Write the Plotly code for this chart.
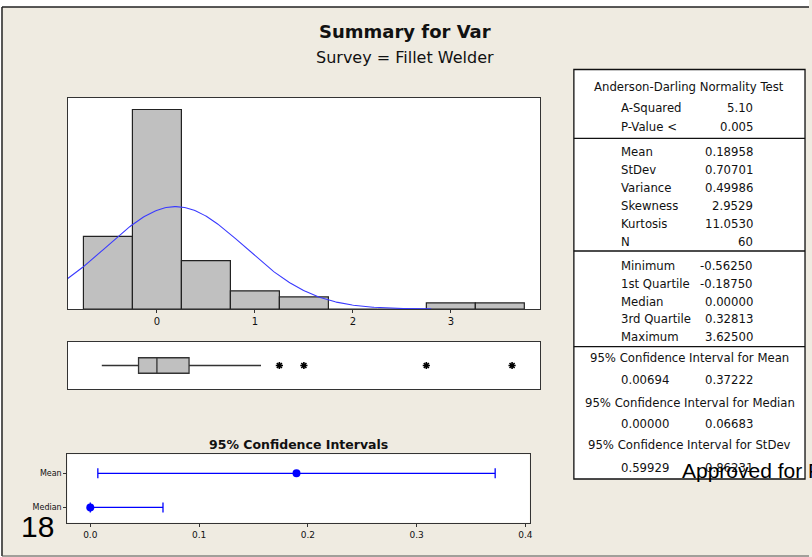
import numpy as np
import plotly.graph_objects as go

# ---------------- data ----------------
bin_centers = [-0.5, 0.0, 0.5, 1.0, 1.5, 2.0, 2.5, 3.0, 3.5]
bin_counts = [12, 33, 8, 3, 2, 0, 0, 1, 1]
bin_width = 0.5

stat_mean = 0.18958
stat_stdev = 0.70701
stat_n = 60

box_min = -0.5625
box_q1 = -0.1875
box_median = 0.0
box_q3 = 0.32813
box_upper_whisker = 1.0625
box_outliers = [1.25, 1.5, 2.75, 3.625]

ci_labels = ["Mean", "Median"]
ci_centers = [0.18958, 0.0]
ci_low = [0.00694, 0.0]
ci_high = [0.37222, 0.06683]

ad_labels = ["A-Squared", "P-Value <"]
ad_values = ["5.10", "0.005"]
desc_labels = ["Mean", "StDev", "Variance", "Skewness", "Kurtosis", "N"]
desc_values = ["0.18958", "0.70701", "0.49986", "2.9529", "11.0530", "60"]
quart_labels = ["Minimum", "1st Quartile", "Median", "3rd Quartile", "Maximum"]
quart_values = ["-0.56250", "-0.18750", "0.00000", "0.32813", "3.62500"]
ci_table = [
    ("95% Confidence Interval for Mean", "0.00694", "0.37222"),
    ("95% Confidence Interval for Median", "0.00000", "0.06683"),
    ("95% Confidence Interval for StDev", "0.59929", "0.86231"),
]

# ---------------- helpers ----------------
W, H = 812, 557
def PX(x):
    return x / W
def PY(y):
    return 1 - y / H

FONT = "DejaVu Sans"
BEIGE = "#EFEBE1"
EDGE = "#333333"

fig = go.Figure()

# histogram
fig.add_trace(go.Bar(
    x=bin_centers, y=bin_counts, width=bin_width,
    marker=dict(color="#C0C0C0", line=dict(color="#222222", width=1.2)),
    xaxis="x", yaxis="y", showlegend=False, hoverinfo="skip"))

# fitted normal curve (from Mean / StDev)
xc = np.linspace(-0.91, 2.8, 300)
yc = stat_n * bin_width / (stat_stdev * np.sqrt(2 * np.pi)) * np.exp(-0.5 * ((xc - stat_mean) / stat_stdev) ** 2)
fig.add_trace(go.Scatter(x=xc, y=yc, mode="lines", line=dict(color="#3a3aff", width=1.1),
                         xaxis="x", yaxis="y", showlegend=False, hoverinfo="skip"))

# boxplot
fig.add_trace(go.Box(
    q1=[box_q1], median=[box_median], q3=[box_q3],
    lowerfence=[box_min], upperfence=[box_upper_whisker],
    y=[0], orientation="h", width=0.66, whiskerwidth=0, boxpoints=False,
    fillcolor="#C0C0C0", line=dict(color="#333333", width=1.3),
    xaxis="x2", yaxis="y2", showlegend=False, hoverinfo="skip"))
fig.add_trace(go.Scatter(
    x=box_outliers, y=[0] * len(box_outliers), mode="markers",
    marker=dict(symbol="asterisk-open", size=6, color="black", line=dict(color="black", width=1.6)),
    xaxis="x2", yaxis="y2", showlegend=False, hoverinfo="skip"))

# confidence intervals
ci_y = [1, 0]
fig.add_trace(go.Scatter(
    x=ci_centers, y=ci_y, mode="markers",
    marker=dict(color="#0000FF", size=8),
    error_x=dict(type="data", symmetric=False,
                 array=[h - c for h, c in zip(ci_high, ci_centers)],
                 arrayminus=[c - l for c, l in zip(ci_centers, ci_low)],
                 color="#0000FF", thickness=1.3, width=5),
    xaxis="x3", yaxis="y3", showlegend=False, hoverinfo="skip"))

axis_common = dict(showline=True, mirror=True, linecolor=EDGE, linewidth=1.3,
                   showgrid=False, zeroline=False)

fig.update_layout(
    width=W, height=H, margin=dict(l=0, r=0, t=0, b=0),
    paper_bgcolor=BEIGE, plot_bgcolor="white",
    font=dict(family=FONT, color="#111111"),
    xaxis=dict(domain=[PX(68), PX(542)], range=[-0.91, 3.91], tickvals=[0, 1, 2, 3],
               ticks="outside", ticklen=3, tickcolor=EDGE, tickfont=dict(size=10), anchor="y",
               **axis_common),
    yaxis=dict(domain=[PY(309), PY(98)], range=[0, 34.9], showticklabels=False, ticks="",
               anchor="x", **axis_common),
    xaxis2=dict(domain=[PX(68), PX(542)], range=[-0.91, 3.91], showticklabels=False, ticks="",
                anchor="y2", **axis_common),
    yaxis2=dict(domain=[PY(389), PY(342)], range=[-1, 1], showticklabels=False, ticks="",
                anchor="x2", **axis_common),
    xaxis3=dict(domain=[PX(67.7), PX(531.7)], range=[-0.021, 0.404],
                tickvals=[0, 0.1, 0.2, 0.3, 0.4], ticktext=["0.0", "0.1", "0.2", "0.3", "0.4"],
                ticks="outside", ticklen=3, tickcolor=EDGE, tickfont=dict(size=9), anchor="y3",
                **axis_common),
    yaxis3=dict(domain=[PY(522.7), PY(454.3)], range=[-0.45, 1.56],
                tickvals=ci_y, ticktext=ci_labels, ticks="outside", ticklen=3, tickcolor=EDGE,
                tickfont=dict(size=8), anchor="x3", **axis_common),
)

shapes = []
# white strips outside the frame and frame lines
shapes.append(dict(type="rect", xref="paper", yref="paper", x0=0, x1=1, y0=PY(7), y1=1,
                   fillcolor="white", line=dict(width=0), layer="above"))
shapes.append(dict(type="rect", xref="paper", yref="paper", x0=0, x1=PX(2), y0=0, y1=1,
                   fillcolor="white", line=dict(width=0), layer="above"))
shapes.append(dict(type="line", xref="paper", yref="paper", x0=PX(2), x1=1, y0=PY(7), y1=PY(7),
                   line=dict(color="#222222", width=1.5)))
shapes.append(dict(type="line", xref="paper", yref="paper", x0=PX(2), x1=PX(2), y0=PY(7), y1=PY(556),
                   line=dict(color="#222222", width=1.5)))
shapes.append(dict(type="line", xref="paper", yref="paper", x0=PX(2), x1=1, y0=PY(556), y1=PY(556),
                   line=dict(color="#555555", width=1.2)))
# stats table
shapes.append(dict(type="rect", xref="paper", yref="paper", x0=PX(576), x1=PX(808), y0=PY(479), y1=PY(69.5),
                   fillcolor="white", line=dict(color="#111111", width=1.3), layer="below"))
for yy in [138.3, 251, 346.7]:
    shapes.append(dict(type="line", xref="paper", yref="paper", x0=PX(576), x1=PX(808), y0=PY(yy), y1=PY(yy),
                       line=dict(color="#111111", width=1.3)))

ann = []
def text(x, y, s, size, anchor="center", bold=False, family=FONT, color="#111111"):
    ann.append(dict(xref="paper", yref="paper", x=PX(x), y=PY(y), text=("<b>%s</b>" % s) if bold else s,
                    showarrow=False, xanchor=anchor, yanchor="middle",
                    font=dict(size=size, family=family, color=color)))

text(407, 32, "Summary for Var", 18, bold=True)
text(407, 57, "Survey = Fillet Welder", 16)
text(300, 444, "95% Confidence Intervals", 12.5, bold=True)

TS = 11.7
LX, RX = 621.7, 758.3
text(692, 87.3, "Anderson-Darling Normality Test", TS)
for i, (l, v) in enumerate(zip(ad_labels, ad_values)):
    y = 108.3 + 19 * i
    text(LX, y, l, TS, "left")
    text(RX, y, v, TS, "right")
for i, (l, v) in enumerate(zip(desc_labels, desc_values)):
    y = 151.7 + 18 * i
    text(LX, y, l, TS, "left")
    text(RX, y, v, TS, "right")
for i, (l, v) in enumerate(zip(quart_labels, quart_values)):
    y = 266 + 17.8 * i
    text(LX, y, l, TS, "left")
    text(RX, y, v, TS, "right")
ci_rows_y = [(358.3, 380), (402.7, 424), (445, 468.3)]
for (hdr, lo, hi), (yh, yv) in zip(ci_table, ci_rows_y):
    text(692.5, yh, hdr, TS)
    text(LX, yv, lo, TS, "left")
    text(RX, yv, hi, TS, "right")

text(683, 470, "Approved for Public Release", 21, "left", family="Liberation Sans", color="black")
text(38, 526, "18", 30, family="Liberation Sans", color="black")

fig.update_layout(shapes=shapes, annotations=ann)
fig.write_html("out.html", config={"displayModeBar": False},
               post_script="document.body.style.margin='0px';document.body.style.overflow='hidden';")
